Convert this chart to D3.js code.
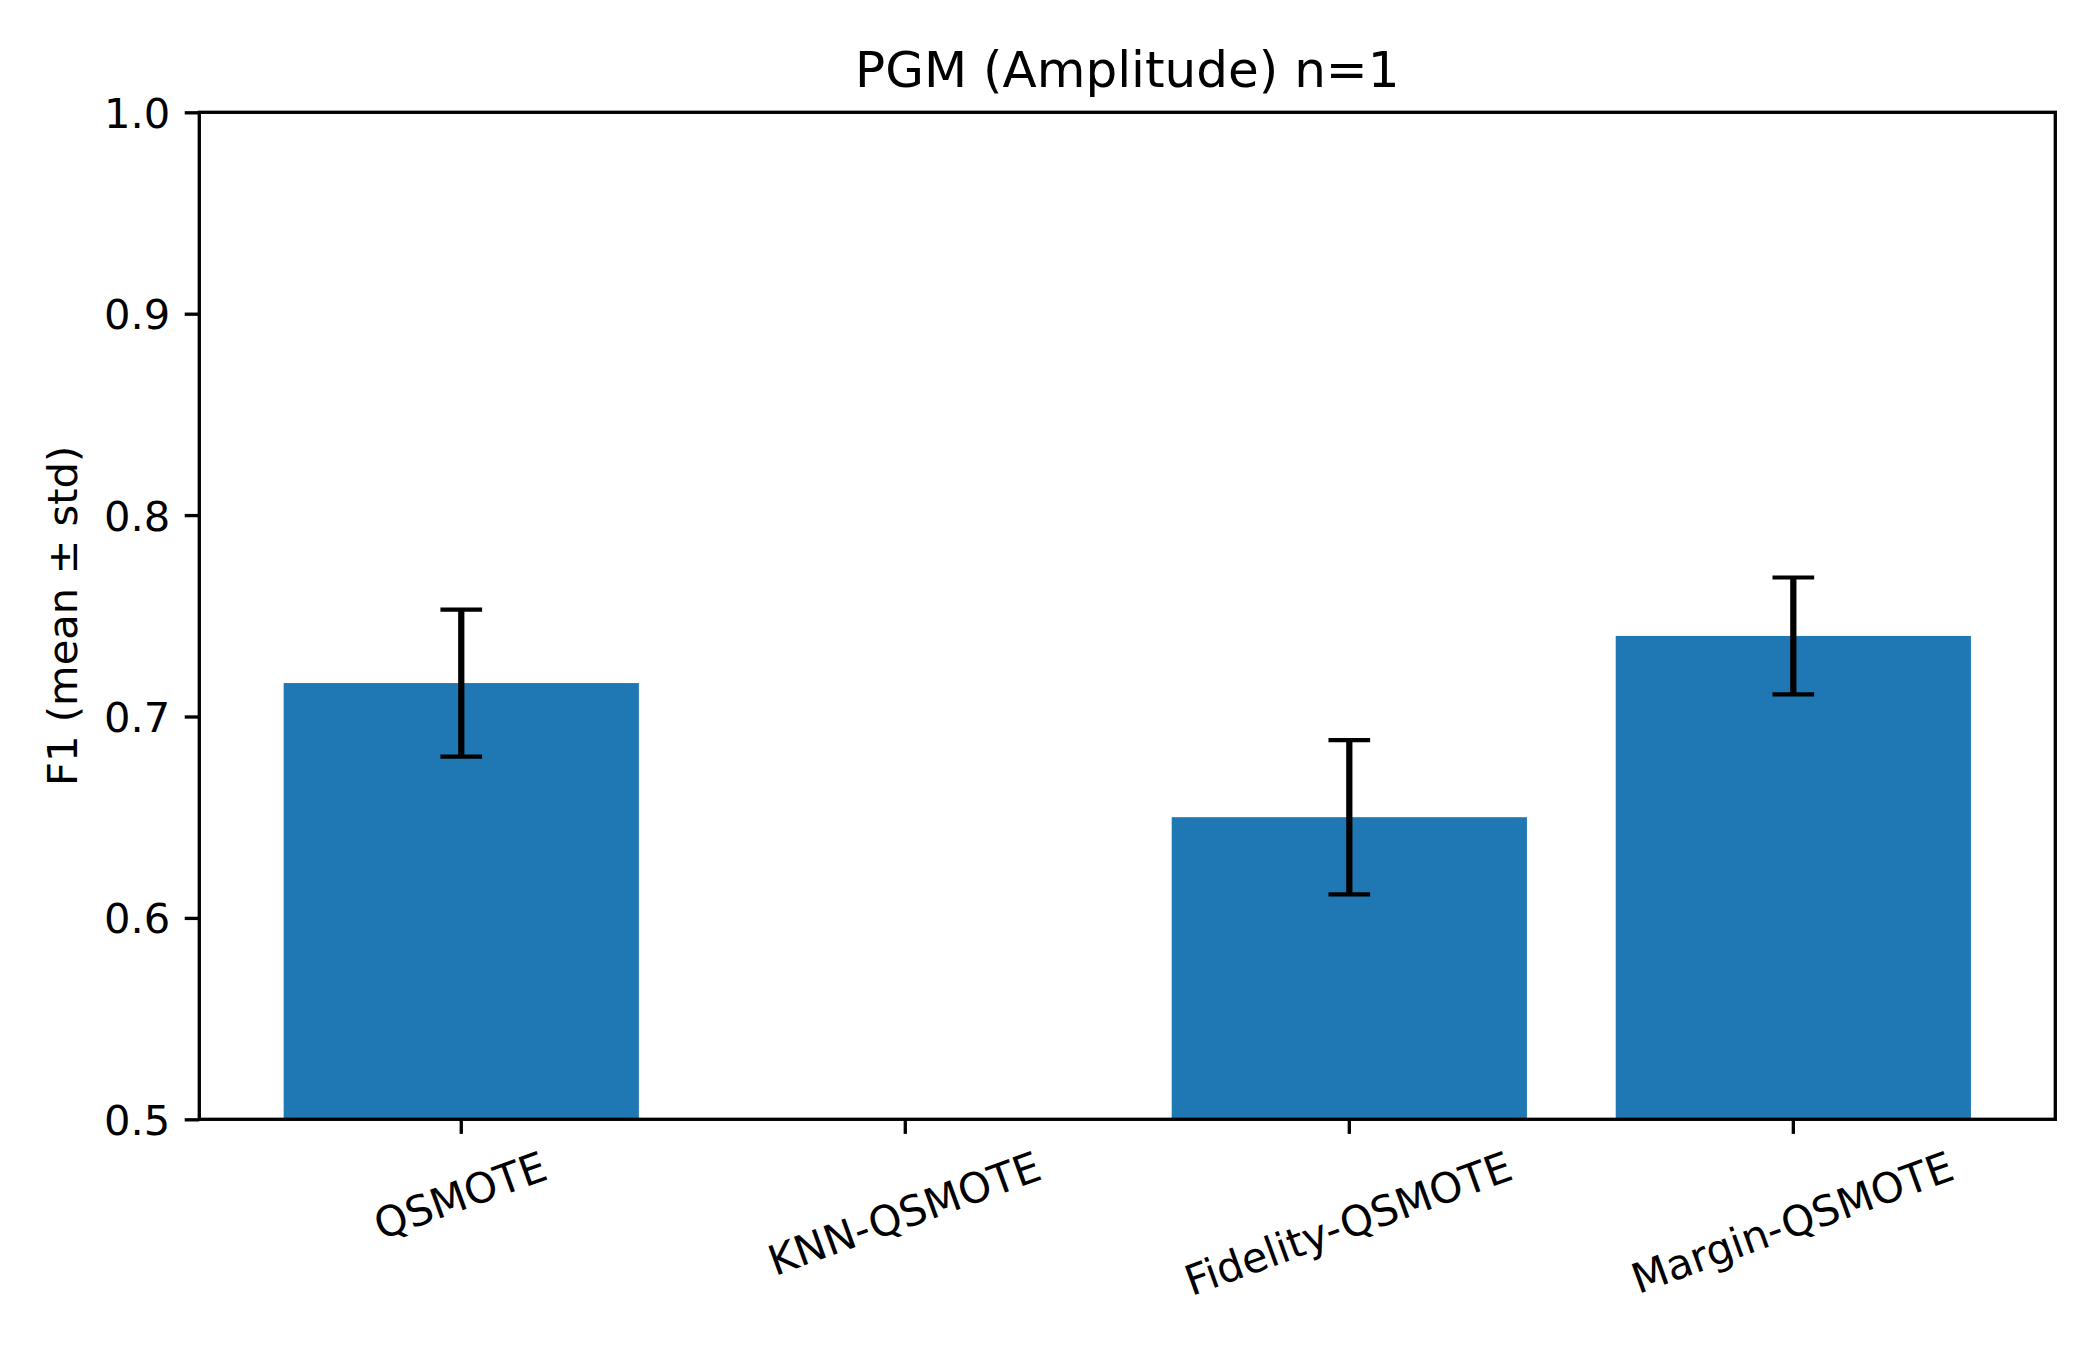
<!DOCTYPE html>
<html>
<head>
<meta charset="utf-8">
<script src="https://cdn.jsdelivr.net/npm/d3@7"></script>
<style>
  body { margin: 0; background: white; }
  svg { display: block; font-family: "DejaVu Sans", sans-serif; }
</style>
</head>
<body>
<script>
const methods = ["QSMOTE", "KNN-QSMOTE", "Fidelity-QSMOTE", "Margin-QSMOTE"];
const means = [0.7166, null, 0.650, 0.740];
const stds = [0.0365, null, 0.0383, 0.0290];
const yTicks = [0.5, 0.6, 0.7, 0.8, 0.9, 1.0];
const yDomain = [0.5, 1.0];

const width = 2100, height = 1350;
const pt = 300 / 72;
const margin = {left: 199.3, right: width - 2055.3, top: 112.3, bottom: height - 1119.3};
const fontSize = 10 * pt;

const data = methods.map((m, i) => ({method: m, mean: means[i], std: stds[i]}));

const svg = d3.select("body").append("svg")
  .attr("width", width)
  .attr("height", height);

svg.append("rect").attr("width", width).attr("height", height).attr("fill", "white");

const x = d3.scaleBand()
  .domain(methods)
  .range([margin.left, width - margin.right])
  .paddingInner(0.2)
  .paddingOuter(0.19);

const y = d3.scaleLinear()
  .domain(yDomain)
  .range([height - margin.bottom, margin.top]);

// bars
svg.append("g")
  .selectAll("rect")
  .data(data.filter(d => d.mean != null))
  .join("rect")
  .attr("x", d => x(d.method))
  .attr("width", x.bandwidth())
  .attr("y", d => y(d.mean))
  .attr("height", d => y(yDomain[0]) - y(d.mean))
  .attr("fill", "#1f77b4");

// error bars
const capHalf = 5 * pt;
const err = svg.append("g")
  .selectAll("g")
  .data(data.filter(d => d.mean != null))
  .join("g")
  .attr("stroke", "black");

err.append("line")
  .attr("x1", d => x(d.method) + x.bandwidth() / 2)
  .attr("x2", d => x(d.method) + x.bandwidth() / 2)
  .attr("y1", d => y(d.mean - d.std))
  .attr("y2", d => y(d.mean + d.std))
  .attr("stroke-width", 1.5 * pt);

[-1, 1].forEach(s => {
  err.append("line")
    .attr("x1", d => x(d.method) + x.bandwidth() / 2 - capHalf)
    .attr("x2", d => x(d.method) + x.bandwidth() / 2 + capHalf)
    .attr("y1", d => y(d.mean + s * d.std))
    .attr("y2", d => y(d.mean + s * d.std))
    .attr("stroke-width", 1 * pt);
});

// y axis
const yAxis = svg.append("g")
  .attr("transform", `translate(${margin.left},0)`)
  .call(d3.axisLeft(y)
    .tickValues(yTicks)
    .tickFormat(d3.format(".1f"))
    .tickSize(3.5 * pt)
    .tickPadding(3.5 * pt));
yAxis.select(".domain").remove();
yAxis.selectAll(".tick line").attr("stroke", "black").attr("stroke-width", 0.8 * pt);
yAxis.selectAll(".tick text")
  .attr("font-size", fontSize)
  .attr("font-family", "DejaVu Sans")
  .attr("fill", "black")
  .attr("dy", "0.36em");

// x axis
const xAxis = svg.append("g")
  .attr("transform", `translate(0,${height - margin.bottom})`)
  .call(d3.axisBottom(x).tickSize(3.5 * pt).tickFormat(""));
xAxis.select(".domain").remove();
xAxis.selectAll(".tick line").attr("stroke", "black").attr("stroke-width", 0.8 * pt);

// rotated x labels, bbox centred on tick like matplotlib rotation=20
const rot = 20 * Math.PI / 180;
const labelTop = height - margin.bottom + 3.5 * pt + 3.5 * pt;
const labels = svg.append("g")
  .selectAll("text")
  .data(methods)
  .join("text")
  .text(d => d)
  .attr("font-size", fontSize)
  .attr("font-family", "DejaVu Sans")
  .attr("text-anchor", "middle")
  .attr("dy", "0.28em");
labels.each(function(d) {
  const w = this.getComputedTextLength();
  const h = fontSize * 0.97;
  const bh = w * Math.sin(rot) + h * Math.cos(rot);
  const cx = x(d) + x.bandwidth() / 2;
  const cy = labelTop + bh / 2;
  d3.select(this).attr("transform", `translate(${cx},${cy}) rotate(-20)`);
});

// spines
svg.append("rect")
  .attr("x", margin.left)
  .attr("y", margin.top)
  .attr("width", width - margin.left - margin.right)
  .attr("height", height - margin.top - margin.bottom)
  .attr("fill", "none")
  .attr("stroke", "black")
  .attr("stroke-width", 0.8 * pt);

// title
svg.append("text")
  .attr("x", (margin.left + width - margin.right) / 2)
  .attr("y", margin.top - 6 * pt)
  .attr("text-anchor", "middle")
  .attr("font-size", 12 * pt)
  .attr("font-family", "DejaVu Sans")
  .text("PGM (Amplitude) n=1");

// y label
svg.append("text")
  .attr("transform", `translate(77,${(margin.top + height - margin.bottom) / 2}) rotate(-90)`)
  .attr("text-anchor", "middle")
  .attr("font-size", fontSize)
  .attr("font-family", "DejaVu Sans")
  .text("F1 (mean ± std)");
</script>
</body>
</html>
